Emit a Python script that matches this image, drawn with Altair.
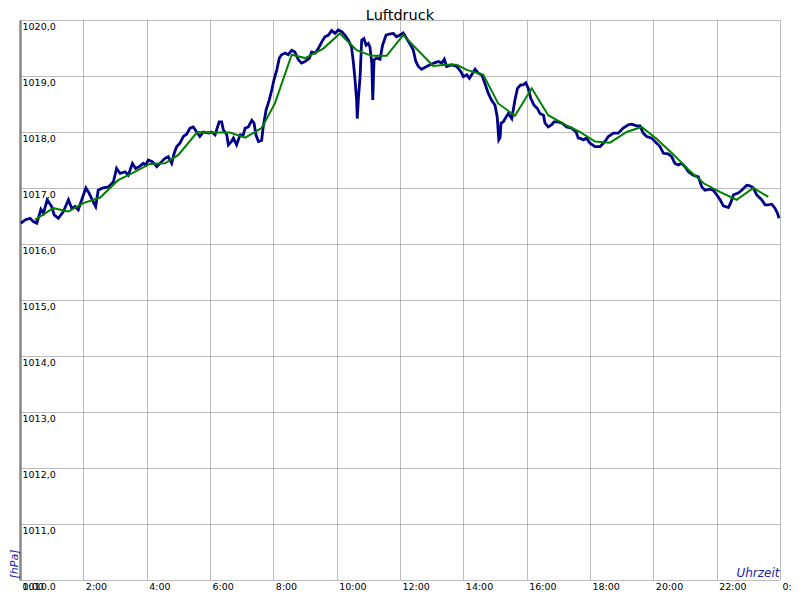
import altair as alt
import pandas as pd

# Measured pressure (blue), hour of day and hPa
blue_h = [0.03, 0.16, 0.32, 0.42, 0.53, 0.66, 0.74, 0.86, 1.00, 1.08, 1.21, 1.37, 1.53, 1.63, 1.74, 1.84, 1.95,
          2.08, 2.18, 2.28, 2.39, 2.47, 2.60, 2.79, 2.95, 3.05, 3.16, 3.32, 3.42, 3.55, 3.65, 3.76, 3.89, 3.97,
          4.05, 4.18, 4.32, 4.42, 4.58, 4.68, 4.79, 4.87, 4.95, 5.05, 5.16, 5.26, 5.37, 5.47, 5.58, 5.68, 5.79,
          5.95, 6.05, 6.16, 6.29, 6.37, 6.42, 6.53, 6.58, 6.68, 6.74, 6.84, 6.95, 7.05, 7.11, 7.21, 7.32, 7.39,
          7.45, 7.53, 7.63, 7.68, 7.77, 7.87, 7.95, 8.02, 8.11, 8.19, 8.26, 8.37, 8.47, 8.58, 8.68, 8.79, 8.89,
          9.00, 9.14, 9.21, 9.32, 9.42, 9.53, 9.63, 9.74, 9.84, 9.95, 10.05, 10.16, 10.26, 10.37, 10.47, 10.53,
          10.58, 10.63, 10.65, 10.69, 10.74, 10.79, 10.86, 10.93, 11.00, 11.05, 11.11, 11.14, 11.18, 11.26,
          11.37, 11.45, 11.56, 11.66, 11.79, 11.89, 12.00, 12.10, 12.21, 12.34, 12.42, 12.50, 12.58, 12.68,
          12.84, 12.95, 13.11, 13.21, 13.32, 13.40, 13.47, 13.63, 13.79, 13.92, 14.00, 14.11, 14.19, 14.26,
          14.37, 14.47, 14.58, 14.68, 14.79, 14.89, 15.00, 15.07, 15.12, 15.16, 15.19, 15.26, 15.35, 15.42,
          15.53, 15.63, 15.71, 15.81, 15.89, 15.97, 16.05, 16.13, 16.23, 16.34, 16.42, 16.53, 16.58, 16.68,
          16.79, 16.86, 16.99, 17.11, 17.26, 17.42, 17.56, 17.63, 17.68, 17.79, 17.89, 18.00, 18.16, 18.32,
          18.47, 18.58, 18.74, 18.89, 19.05, 19.21, 19.32, 19.47, 19.58, 19.68, 19.79, 19.95, 20.05, 20.21,
          20.32, 20.47, 20.58, 20.68, 20.79, 20.89, 21.00, 21.11, 21.26, 21.42, 21.53, 21.63, 21.79, 21.89,
          22.00, 22.11, 22.21, 22.37, 22.44, 22.53, 22.68, 22.79, 22.95, 23.05, 23.16, 23.26, 23.42, 23.53,
          23.63, 23.74, 23.84, 23.92, 23.97]
blue_v = [1016.37, 1016.43, 1016.46, 1016.40, 1016.37, 1016.62, 1016.55, 1016.79, 1016.67, 1016.52, 1016.46,
          1016.58, 1016.79, 1016.64, 1016.67, 1016.61, 1016.79, 1017.00, 1016.91, 1016.79, 1016.67, 1016.96,
          1017.00, 1017.02, 1017.11, 1017.35, 1017.26, 1017.29, 1017.23, 1017.44, 1017.35, 1017.38, 1017.44,
          1017.41, 1017.50, 1017.47, 1017.38, 1017.44, 1017.53, 1017.56, 1017.44, 1017.62, 1017.74, 1017.80,
          1017.92, 1017.96, 1018.07, 1018.09, 1018.00, 1017.92, 1018.00, 1017.98, 1018.00, 1017.95, 1018.18,
          1018.18, 1018.04, 1017.95, 1017.77, 1017.83, 1017.89, 1017.77, 1017.95, 1017.95, 1018.07, 1018.09,
          1018.21, 1018.16, 1017.95, 1017.83, 1017.85, 1018.09, 1018.39, 1018.57, 1018.75, 1018.93, 1019.11,
          1019.32, 1019.38, 1019.41, 1019.38, 1019.46, 1019.43, 1019.29, 1019.23, 1019.26, 1019.32, 1019.43,
          1019.41, 1019.49, 1019.61, 1019.70, 1019.73, 1019.81, 1019.76, 1019.82, 1019.79, 1019.73, 1019.64,
          1019.52, 1019.23, 1018.93, 1018.57, 1018.24, 1018.63, 1018.99, 1019.64, 1019.67, 1019.55, 1019.58,
          1019.52, 1019.23, 1018.57, 1019.29, 1019.32, 1019.30, 1019.55, 1019.73, 1019.75, 1019.76, 1019.70,
          1019.73, 1019.77, 1019.67, 1019.55, 1019.46, 1019.26, 1019.17, 1019.12, 1019.17, 1019.20, 1019.24,
          1019.26, 1019.23, 1019.30, 1019.17, 1019.20, 1019.17, 1019.08, 1018.99, 1019.02, 1018.96, 1019.02,
          1019.12, 1019.05, 1019.02, 1018.87, 1018.69, 1018.57, 1018.48, 1018.27, 1017.86, 1017.90, 1018.16,
          1018.18, 1018.27, 1018.33, 1018.24, 1018.57, 1018.78, 1018.84, 1018.84, 1018.88, 1018.78, 1018.60,
          1018.48, 1018.42, 1018.33, 1018.30, 1018.16, 1018.09, 1018.13, 1018.18, 1018.18, 1018.16, 1018.09,
          1018.07, 1018.00, 1017.89, 1017.89, 1017.86, 1017.89, 1017.80, 1017.74, 1017.74, 1017.83, 1017.92,
          1017.98, 1017.98, 1018.07, 1018.13, 1018.14, 1018.11, 1018.11, 1017.98, 1017.92, 1017.89, 1017.83,
          1017.74, 1017.62, 1017.61, 1017.56, 1017.44, 1017.41, 1017.44, 1017.38, 1017.29, 1017.23, 1017.20,
          1017.02, 1016.96, 1016.98, 1016.96, 1016.88, 1016.79, 1016.68, 1016.65, 1016.73, 1016.88, 1016.91,
          1016.96, 1017.05, 1017.04, 1017.00, 1016.88, 1016.79, 1016.70, 1016.70, 1016.71, 1016.64, 1016.55,
          1016.46]

# Smoothed pressure (green)
green_h = [0.47, 1.05, 1.53, 2.00, 2.53, 3.10, 3.53, 4.10, 4.58, 5.00, 5.60, 6.10, 6.63, 7.11, 7.63, 8.05,
           8.58, 9.00, 9.58, 10.10, 10.63, 11.11, 11.58, 12.10, 12.58, 13.05, 13.47, 13.79, 14.11, 14.63,
           15.10, 15.63, 16.16, 16.68, 17.21, 17.68, 18.16, 18.63, 19.16, 19.63, 20.10, 20.63, 21.10, 21.60,
           22.10, 22.63, 23.16, 23.63]
green_v = [1016.43, 1016.64, 1016.58, 1016.73, 1016.83, 1017.14, 1017.26, 1017.43, 1017.44, 1017.59, 1018.00,
           1017.99, 1017.99, 1017.90, 1018.07, 1018.51, 1019.38, 1019.32, 1019.49, 1019.76, 1019.46, 1019.36,
           1019.36, 1019.73, 1019.45, 1019.18, 1019.20, 1019.20, 1019.11, 1019.02, 1018.51, 1018.29, 1018.78,
           1018.30, 1018.13, 1018.00, 1017.83, 1017.81, 1018.00, 1018.09, 1017.88, 1017.60, 1017.33, 1017.08,
           1016.93, 1016.79, 1017.00, 1016.84]

x_ticks = list(range(0, 25, 2))
y_ticks = list(range(1010, 1021))
title_text = ["Luftdruck"]

blue_df = pd.DataFrame({"h": blue_h, "v": blue_v})
green_df = pd.DataFrame({"h": green_h, "v": green_v})
title_df = pd.DataFrame({"t": title_text})

FONT = "DejaVu Sans"
GRID = "#7a7a7a"
LABEL_BLUE = "#2222aa"
W, H = 760, 560

x_enc = alt.X(
    "h:Q",
    scale=alt.Scale(domain=[0, 24], nice=False, zero=False),
    axis=alt.Axis(
        values=x_ticks, grid=True, gridDash=[1, 1], gridColor=GRID, gridWidth=1,
        domain=False, ticks=False, tickSize=0,
        labelAlign="left", labelBaseline="top", labelPadding=1, labelOffset=2,
        labelExpr="(datum.value % 24) + ':00'",
        labelFont=FONT, labelFontSize=9.5, labelColor="black",
        labelFlush=False, labelOverlap=False, labelBound=False,
        title="Uhrzeit", titleX=W - 1, titleY=-4, titleAlign="right", titleBaseline="alphabetic",
        titleFont=FONT, titleFontSize=12, titleFontStyle="italic", titleFontWeight="normal",
        titleColor=LABEL_BLUE,
    ),
)
y_enc = alt.Y(
    "v:Q",
    scale=alt.Scale(domain=[1010, 1020], nice=False, zero=False),
    axis=alt.Axis(
        values=y_ticks, grid=True, gridDash=[1, 1], gridColor=GRID, gridWidth=1,
        domain=True, domainColor="#888888", domainWidth=2.5, ticks=False, tickSize=0,
        labelAlign="left", labelBaseline="top", labelPadding=-2, labelOffset=1,
        labelExpr="replace(format(datum.value, '.1f'), '.', ',')",
        labelFont=FONT, labelFontSize=9.5, labelColor="black",
        labelFlush=False, labelOverlap=False, labelBound=False,
        title="[hPa]", titleX=-3, titleY=H - 2, titleAngle=270, titleAlign="left",
        titleBaseline="alphabetic", titleFont=FONT, titleFontSize=11, titleFontStyle="italic",
        titleFontWeight="normal", titleColor=LABEL_BLUE,
    ),
)

blue = alt.Chart(blue_df).mark_line(color="#000088", strokeWidth=2.8).encode(x=x_enc, y=y_enc, order="h:Q")
green = alt.Chart(green_df).mark_line(color="#008000", strokeWidth=2).encode(x="h:Q", y="v:Q", order="h:Q")
title = alt.Chart(title_df).mark_text(
    font=FONT, fontSize=14.5, color="black", align="center", baseline="alphabetic"
).encode(text="t:N", x=alt.value(W / 2), y=alt.value(-0.5))

chart = (
    alt.layer(blue, green, title)
    .properties(
        width=W, height=H,
        padding={"left": 12, "top": 12, "right": 12, "bottom": 10},
        autosize=alt.AutoSizeParams(type="none"),
        background="white",
    )
    .configure_view(stroke=None)
)

chart.save("out.html", embed_options={"renderer": "svg", "actions": False})
